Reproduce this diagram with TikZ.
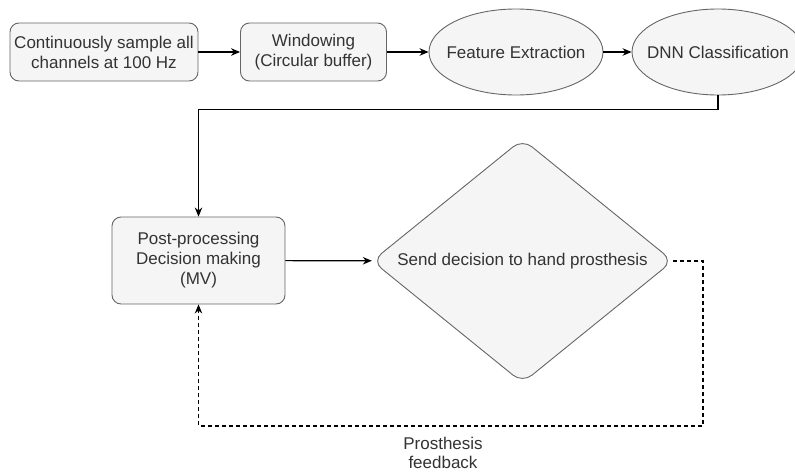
\documentclass[tikz,border=0pt]{standalone}
\usepackage{fontspec}
\setmainfont{Liberation Sans}
\usetikzlibrary{shapes.geometric,arrows.meta}
\definecolor{fillg}{HTML}{F5F5F5}
\definecolor{strokeg}{HTML}{666666}
\definecolor{txtg}{HTML}{333333}
\begin{document}
\begin{tikzpicture}[x=1pt,y=-1pt,
  base/.style={draw=strokeg, fill=fillg, line width=0.9pt, text=txtg, font=\fontsize{17}{20}\selectfont, inner sep=0pt},
  rbox/.style={base, rectangle, rounded corners=9pt, align=center},
  ell/.style={base, ellipse},
  dia/.style={base, diamond, rounded corners=12pt},
  conn/.style={line width=1.2pt, -{Stealth[length=9pt,width=7.5pt]}},
  dconn/.style={conn, dash pattern=on 4pt off 3pt},
  lbl/.style={text=txtg, font=\fontsize{17}{19}\selectfont, align=center, inner sep=0pt}]
\clip (0,0) rectangle (795,474);
\fill[white] (0,0) rectangle (795,474);
\node[rbox, minimum width=188pt, minimum height=58pt] (s1) at (104,52) {Continuously sample all\\channels at 100 Hz};
\node[rbox, minimum width=146pt, minimum height=58pt] (s2) at (313.5,52) {Windowing\\(Circular buffer)};
\node[ell, minimum width=174pt, minimum height=86pt] (fe) at (516,52) {\makebox[0pt][c]{Feature Extraction}};
\node[ell, minimum width=172pt, minimum height=86pt] (dnn) at (718,52) {\makebox[0pt][c]{DNN Classification}};
\node[rbox, minimum width=173pt, minimum height=87pt] (pp) at (198.5,260.5) {Post-processing\\Decision making\\(MV)};
\node[dia, minimum width=301pt, minimum height=244pt] (dc) at (522.5,261) {\makebox[0pt][c]{Send decision to hand prosthesis}};
\coordinate (fbr) at (703,426);
\node[lbl] (fb) at (443,453) {Prosthesis\\feedback};
\draw[conn] (s1) -- (s2);
\draw[conn] (s2) -- (fe);
\draw[conn] (fe) -- (dnn);
\draw[conn] (dnn.south) -- ++(0,14) -| (pp.north);
\draw[conn] (pp) -- (dc);
\draw[dconn] (dc.east) -| (fbr) -| (pp.south);
\end{tikzpicture}
\end{document}
